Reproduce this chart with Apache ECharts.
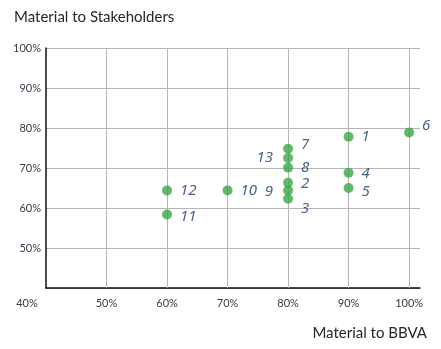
<!DOCTYPE html>
<html><head><meta charset="utf-8">
<script src="https://cdn.jsdelivr.net/npm/echarts@6/dist/echarts.min.js"></script>
<style>html,body{margin:0;padding:0;background:#fff}#c{width:441px;height:349px}</style>
</head><body><div id="c"></div>
<script>
const ids = ['1','2','3','4','5','6','7','8','9','10','11','12','13'];
const bbva = [90, 80, 80, 90, 90, 100, 80, 80, 80, 70, 60, 60, 80];
const stakeholders = [77.8, 66.3, 62.3, 68.8, 65, 78.9, 74.8, 70.1, 64.4, 64.4, 58.4, 64.4, 72.5];
const xTicks = [40, 50, 60, 70, 80, 90, 100];
const yTicks = [40, 50, 60, 70, 80, 90, 100];

// label placement (style only)
const place = {
  '1': {position:'right', offset:[3,0]},
  '2': {position:'right', offset:[3,1]},
  '3': {position:'right', offset:[3,10]},
  '4': {position:'right', offset:[3,1]},
  '5': {position:'right', offset:[3,4]},
  '6': {position:'right', offset:[3,-7]},
  '7': {position:'right', offset:[3,-4]},
  '8': {position:'right', offset:[3,0]},
  '9': {position:'left', offset:[-5,1]},
  '10': {position:'right', offset:[3,0]},
  '11': {position:'right', offset:[3,2]},
  '12': {position:'right', offset:[3,0]},
  '13': {position:'left', offset:[-5,0]}
};

const data = ids.map((id, i) => ({
  value: [bbva[i], stakeholders[i], id],
  label: place[id]
}));

const chart = echarts.init(document.getElementById('c'), null, {renderer:'canvas'});
const font = 'Lato, "Noto Sans", sans-serif';
chart.setOption({
  animation: false,
  textStyle: {fontFamily: font},
  title: [
    {text: 'Material to Stakeholders', left: 9, top: 5, textStyle: {fontFamily: font, fontSize: 15, fontWeight: 'normal', color: '#23272e'}},
    {text: 'Material to BBVA', right: 9, top: 321, textStyle: {fontFamily: font, fontSize: 15, fontWeight: 'normal', color: '#23272e'}}
  ],
  grid: {left: 46, right: 21, top: 48, bottom: 61},
  xAxis: {
    type: 'value', min: 40, max: 101.8, interval: 10,
    axisLine: {show: true, lineStyle: {color: '#111', width: 1.5}},
    axisTick: {show: false},
    splitLine: {show: false},
    axisLabel: {
      margin: 10, color: '#333c48', fontSize: 11, fontFamily: font,
      formatter: v => {
        if (Math.abs(v % 10) > 1e-6 || xTicks.indexOf(v) < 0) return '';
        if (v === 40) return '{first|' + v + '%}';
        return v + '%';
      },
      rich: {first: {padding: [0, 38, 0, 0], color: '#333c48', fontSize: 11, fontFamily: font}}
    }
  },
  yAxis: {
    type: 'value', min: 40, max: 100, interval: 10,
    axisLine: {show: true, lineStyle: {color: '#111', width: 1.5}},
    axisTick: {show: false},
    splitLine: {show: true, lineStyle: {color: '#b5b5b5', width: 1}},
    axisLabel: {
      margin: 5, color: '#333c48', fontSize: 11, fontFamily: font,
      formatter: v => (v === 40 ? '' : v + '%')
    }
  },
  series: [{
    type: 'scatter',
    data: data,
    symbolSize: 10,
    itemStyle: {color: '#3ba846'},
    label: {
      show: true,
      formatter: p => p.value[2],
      fontStyle: 'italic', fontSize: 15, color: '#17386a', fontFamily: '"Noto Sans", sans-serif'
    },
    markLine: {
      silent: true, symbol: 'none', label: {show: false},
      lineStyle: {color: '#b5b5b5', width: 1, type: 'solid'},
      data: xTicks.filter(v => v > 40).map(v => ({xAxis: v}))
    },
    z: 5
  }]
});
</script></body></html>
